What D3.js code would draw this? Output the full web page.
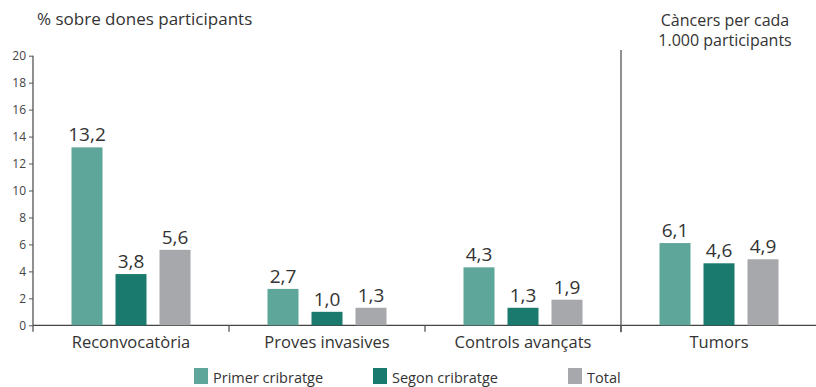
<!DOCTYPE html>
<html><head><meta charset="utf-8">
<script src="https://cdn.jsdelivr.net/npm/d3@7"></script>
<style>body{margin:0;background:#fff}svg{display:block}text{font-family:"Open Sans",sans-serif;fill:#333}</style>
</head><body>
<svg id="c" width="816" height="387"></svg>
<script>
const categories = ["Reconvocatòria","Proves invasives","Controls avançats","Tumors"];
const seriesNames = ["Primer cribratge","Segon cribratge","Total"];
const primer = [13.2, 2.7, 4.3, 6.1];
const segon = [3.8, 1.0, 1.3, 4.6];
const total = [5.6, 1.3, 1.9, 4.9];
const yTicks = [0,2,4,6,8,10,12,14,16,18,20];
const colors = ["#5fa69a","#1a7a6d","#a7a8ac"];

const svg = d3.select("#c");
const x0 = 33, yBase = 325.3, yTop = 55.7;
const x = d3.scaleBand().domain(categories).range([33, 817]).paddingInner(0).paddingOuter(0);
const xs = d3.scaleBand().domain(seriesNames).range([0, 44*3-13]).paddingInner(13/44).paddingOuter(0);
const y = d3.scaleLinear().domain([0,20]).range([yBase, yTop]);
const fmt = v => d3.format(".1f")(v).replace(".", ",");

// y axis
const ya = svg.append("g").attr("transform",`translate(${x0},0)`)
  .call(d3.axisLeft(y).tickValues(yTicks).tickSize(4).tickPadding(3));
ya.select(".domain").attr("stroke","#555").attr("stroke-width",1.3).attr("d",`M0,${yTop}V${yBase}`);
ya.selectAll(".tick line").attr("stroke","#555").attr("stroke-width",1);
ya.selectAll(".tick text").style("font-size","12px").style("fill","#444");

// x axis line
svg.append("line").attr("x1",x0).attr("x2",816).attr("y1",yBase).attr("y2",yBase).attr("stroke","#444").attr("stroke-width",1.3);
// category separator ticks
categories.forEach((c,i)=>{
  const xx = x(c);
  svg.append("line").attr("x1",xx).attr("x2",xx).attr("y1",yBase).attr("y2",yBase+6.5).attr("stroke","#555").attr("stroke-width",1.3);
});
// divider
svg.append("line").attr("x1",x("Tumors")).attr("x2",x("Tumors")).attr("y1",50).attr("y2",yBase+7).attr("stroke","#555").attr("stroke-width",1.3);

const data = [primer, segon, total];
categories.forEach((c,i)=>{
  const gx = x(c) + (x.bandwidth() - (44*2+31))/2;
  const g = svg.append("g").attr("transform",`translate(${gx},0)`);
  seriesNames.forEach((s,j)=>{
    const v = data[j][i];
    g.append("rect").attr("x", xs(s)).attr("width", xs.bandwidth())
      .attr("y", y(v)).attr("height", yBase - y(v)).attr("fill", colors[j]);
    g.append("text").attr("x", xs(s)+xs.bandwidth()/2).attr("y", y(v)-6)
      .attr("text-anchor","middle").style("font-size","19px").text(fmt(v));
  });
  svg.append("text").attr("x", x(c)+x.bandwidth()/2).attr("y", 347.5)
    .attr("text-anchor","middle").style("font-size","16.5px").text(c);
});

// titles
svg.append("text").attr("x",37).attr("y",25).style("font-size","17px").text("% sobre dones participants");
svg.append("text").attr("x",725).attr("y",25.5).attr("text-anchor","middle").style("font-size","16px").text("Càncers per cada");
svg.append("text").attr("x",725).attr("y",46).attr("text-anchor","middle").style("font-size","16px").text("1.000 participants");

// legend
const legX = [194, 373, 568];
seriesNames.forEach((s,j)=>{
  svg.append("rect").attr("x",legX[j]).attr("y",368).attr("width",14).attr("height",16).attr("fill",colors[j]);
  svg.append("text").attr("x",legX[j]+19).attr("y",383).style("font-size","14.5px").text(s);
});
</script>
</body></html>
